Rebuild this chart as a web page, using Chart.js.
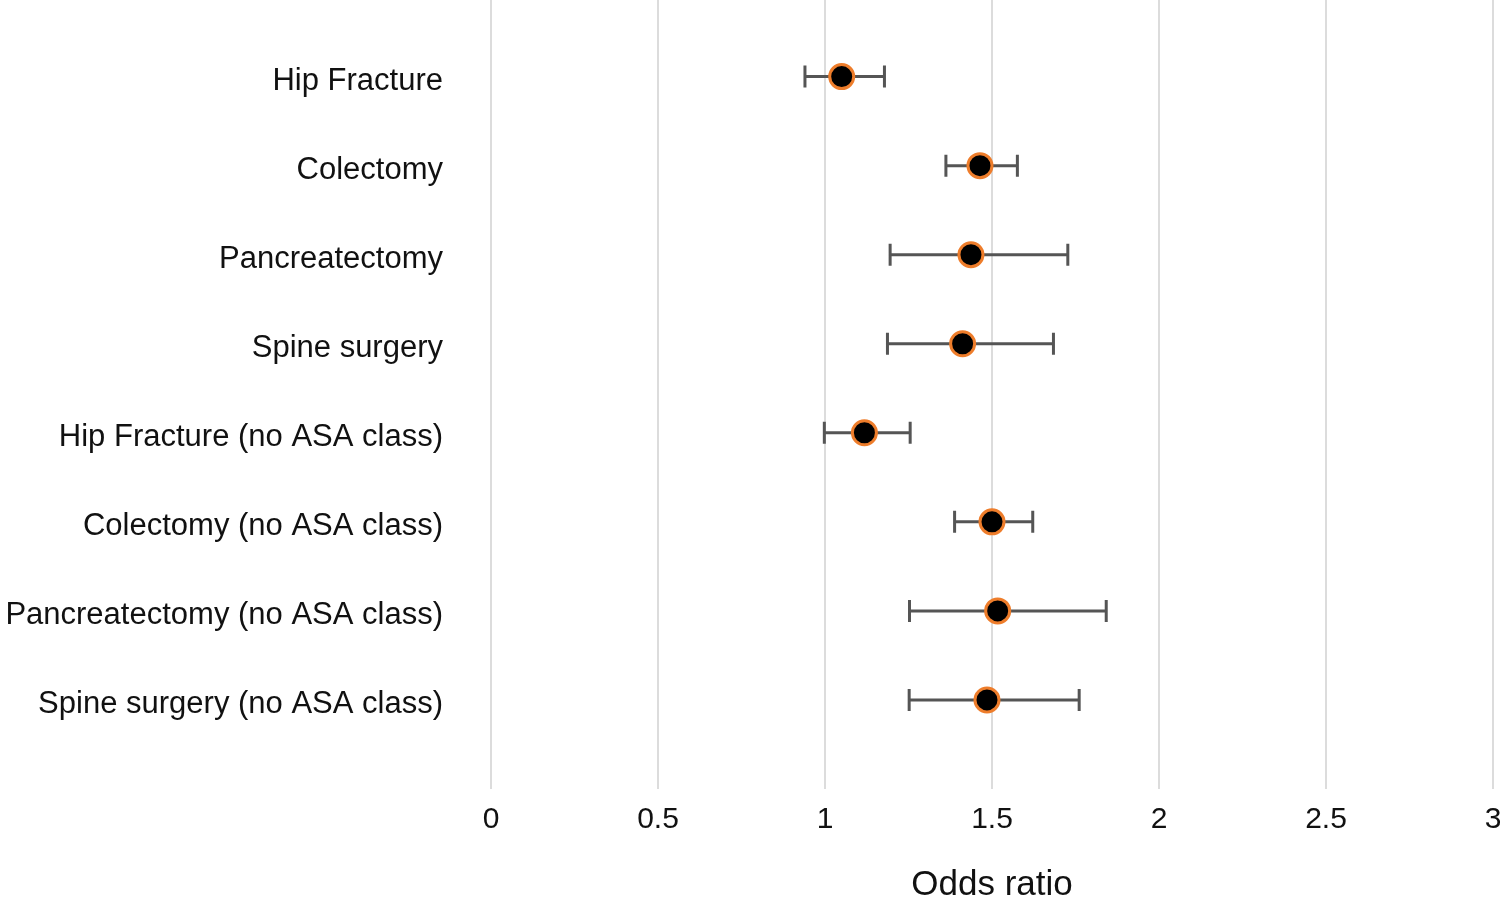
<!DOCTYPE html>
<html>
<head>
<meta charset="utf-8">
<script src="https://cdn.jsdelivr.net/npm/chart.js@4"></script>
<style>
html,body{margin:0;padding:0;background:#fff;}
#wrap{width:1500px;height:897px;position:relative;}
</style>
</head>
<body>
<div id="wrap"><canvas id="c" width="1500" height="897"></canvas></div>
<script>
const categories = [
  "Hip Fracture",
  "Colectomy",
  "Pancreatectomy",
  "Spine surgery",
  "Hip Fracture (no ASA class)",
  "Colectomy (no ASA class)",
  "Pancreatectomy (no ASA class)",
  "Spine surgery (no ASA class)"
];
const oddsRatio = [1.050, 1.464, 1.437, 1.412, 1.118, 1.500, 1.517, 1.485];
const lowerCI   = [0.940, 1.362, 1.195, 1.187, 0.998, 1.388, 1.253, 1.252];
const upperCI   = [1.178, 1.576, 1.727, 1.684, 1.255, 1.622, 1.842, 1.761];
const xTicks    = [0, 0.5, 1, 1.5, 2, 2.5, 3];

const FONT = "'Liberation Sans', Arial, sans-serif";

const errorBars = {
  id: 'errorBars',
  beforeDatasetsDraw(chart) {
    const ctx = chart.ctx;
    const xs = chart.scales.x, ys = chart.scales.y;
    ctx.save();
    ctx.strokeStyle = '#555555';
    ctx.lineWidth = 3;
    ctx.lineCap = 'butt';
    categories.forEach((c, i) => {
      const y = ys.getPixelForValue(i + 1);
      const x1 = xs.getPixelForValue(lowerCI[i]);
      const x2 = xs.getPixelForValue(upperCI[i]);
      const h = 11;
      ctx.beginPath();
      ctx.moveTo(x1, y); ctx.lineTo(x2, y);
      ctx.moveTo(x1, y - h); ctx.lineTo(x1, y + h);
      ctx.moveTo(x2, y - h); ctx.lineTo(x2, y + h);
      ctx.stroke();
    });
    ctx.restore();
  }
};

new Chart(document.getElementById('c'), {
  type: 'scatter',
  data: {
    datasets: [{
      data: oddsRatio.map((v, i) => ({x: v, y: i + 1})),
      backgroundColor: '#000000',
      borderColor: '#EE7D2B',
      borderWidth: 3,
      pointRadius: 12,
      pointHoverRadius: 12,
      clip: false
    }]
  },
  options: {
    responsive: false,
    animation: false,
    layout: {padding: 0, autoPadding: false},
    plugins: {legend: {display: false}, tooltip: {enabled: false}},
    scales: {
      x: {
        type: 'linear',
        min: 0, max: 3,
        afterBuildTicks(axis) { axis.ticks = xTicks.map(v => ({value: v})); },
        afterFit(axis) { axis.paddingRight = 7; axis.paddingLeft = 0; },
        grid: {color: '#dcdcdc', lineWidth: 2, drawTicks: false},
        border: {display: false},
        ticks: {
          padding: 13,
          color: '#111',
          font: {family: FONT, size: 30},
          callback: v => String(v)
        },
        title: {
          display: true,
          text: 'Odds ratio',
          color: '#111',
          font: {family: FONT, size: 35},
          padding: {top: 13, bottom: -9}
        }
      },
      y: {
        type: 'linear',
        reverse: true,
        min: 0.14, max: 9.0,
        afterBuildTicks(axis) { axis.ticks = categories.map((c, i) => ({value: i + 1})); },
        afterFit(axis) { axis.width = 491; axis.paddingTop = 0; axis.paddingBottom = 0; },
        grid: {display: false, drawTicks: false},
        border: {display: false},
        ticks: {
          padding: 48,
          labelOffset: 5,
          color: '#111',
          font: {family: FONT, size: 31},
          callback: v => categories[v - 1] || ''
        }
      }
    }
  },
  plugins: [errorBars]
});
</script>
</body>
</html>
